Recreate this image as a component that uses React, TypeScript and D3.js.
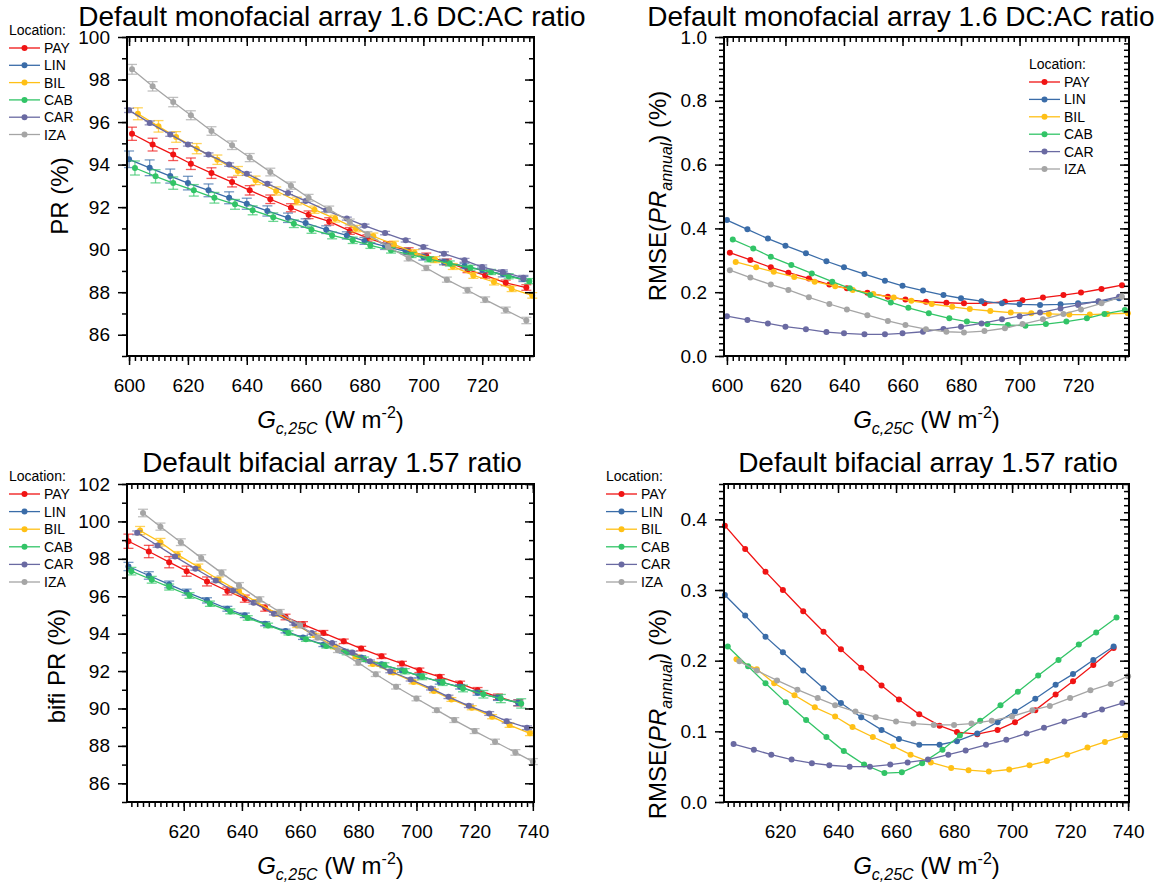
import React, { useEffect, useRef } from 'react';
import * as d3 from 'd3';

const FONT = '"Liberation Sans", Arial, Helvetica, sans-serif';

const locations = ['PAY', 'LIN', 'BIL', 'CAB', 'CAR', 'IZA'];
const colors: Record<string, string> = {
  PAY: '#f01414',
  LIN: '#3a6ca8',
  BIL: '#ffc016',
  CAB: '#32c467',
  CAR: '#6a6aa2',
  IZA: '#a5a5a5',
};

// monofacial array, 1.6 DC:AC ratio
const monoPayX = [601, 608, 615, 621, 628, 635, 641, 648, 655, 661, 668, 675, 681, 688, 695, 701, 708, 715, 721, 728, 735];
const monoLinX = [600, 607, 614, 620, 627, 634, 640, 647, 654, 660, 667, 674, 680, 687, 694, 700, 707, 714, 720, 727, 734];
const monoBilX = [603, 610, 616, 623, 630, 637, 643, 650, 657, 663, 670, 677, 683, 690, 697, 704, 710, 717, 724, 730, 737];
const monoCabX = [602, 609, 615, 622, 629, 636, 642, 649, 656, 662, 669, 676, 682, 689, 696, 702, 709, 716, 723, 729, 736];
const monoCarX = [600, 607, 614, 620, 627, 634, 640, 647, 654, 660, 667, 674, 680, 687, 694, 700, 707, 714, 720, 727, 734];
const monoIzaX = [601, 608, 615, 621, 628, 635, 641, 648, 655, 661, 668, 675, 681, 688, 695, 701, 708, 715, 721, 728, 735];

const monoPayPR = [95.45, 94.94, 94.47, 94.04, 93.6, 93.18, 92.79, 92.37, 91.97, 91.64, 91.33, 90.88, 90.55, 90.23, 89.94, 89.7, 89.42, 89.06, 88.79, 88.44, 88.22];
const monoLinPR = [94.25, 93.85, 93.46, 93.13, 92.79, 92.44, 92.16, 91.82, 91.5, 91.25, 90.94, 90.67, 90.41, 90.16, 89.92, 89.65, 89.42, 89.23, 89.05, 88.85, 88.62];
const monoBilPR = [96.39, 95.8, 95.3, 94.75, 94.23, 93.7, 93.26, 92.76, 92.29, 91.88, 91.46, 90.99, 90.63, 90.25, 89.86, 89.53, 89.21, 88.79, 88.48, 88.16, 87.85];
const monoCabPR = [93.84, 93.45, 93.13, 92.79, 92.44, 92.13, 91.85, 91.53, 91.22, 90.94, 90.67, 90.44, 90.2, 89.97, 89.75, 89.55, 89.35, 89.15, 88.95, 88.75, 88.52];
const monoCarPR = [96.55, 95.96, 95.42, 94.95, 94.47, 94.0, 93.57, 93.1, 92.66, 92.29, 91.85, 91.46, 91.13, 90.78, 90.44, 90.12, 89.81, 89.5, 89.18, 88.95, 88.68];
const monoIzaPR = [98.48, 97.68, 96.94, 96.32, 95.58, 94.91, 94.33, 93.65, 93.01, 92.44, 91.9, 91.3, 90.72, 90.14, 89.6, 89.14, 88.59, 88.09, 87.65, 87.16, 86.67];

const monoPayErr = [0.31, 0.3, 0.28, 0.27, 0.25, 0.23, 0.22, 0.2, 0.19, 0.18, 0.17, 0.16, 0.15, 0.15, 0.15, 0.14, 0.14, 0.14, 0.13, 0.13, 0.13];
const monoLinErr = [0.39, 0.37, 0.33, 0.32, 0.3, 0.28, 0.26, 0.24, 0.22, 0.2, 0.18, 0.17, 0.16, 0.15, 0.14, 0.14, 0.13, 0.13, 0.13, 0.13, 0.12];
const monoBilErr = [0.28, 0.27, 0.25, 0.24, 0.22, 0.21, 0.2, 0.19, 0.18, 0.17, 0.16, 0.15, 0.15, 0.15, 0.14, 0.14, 0.14, 0.14, 0.14, 0.13, 0.13];
const monoCabErr = [0.33, 0.31, 0.29, 0.27, 0.25, 0.23, 0.21, 0.2, 0.18, 0.17, 0.16, 0.15, 0.14, 0.13, 0.12, 0.12, 0.12, 0.12, 0.12, 0.12, 0.12];
const monoCarErr = [0.1, 0.09, 0.09, 0.08, 0.08, 0.08, 0.07, 0.07, 0.07, 0.07, 0.07, 0.07, 0.07, 0.08, 0.08, 0.08, 0.09, 0.09, 0.1, 0.1, 0.11];
const monoIzaErr = [0.23, 0.22, 0.22, 0.21, 0.2, 0.2, 0.19, 0.18, 0.17, 0.16, 0.15, 0.14, 0.13, 0.13, 0.13, 0.12, 0.12, 0.13, 0.13, 0.14, 0.15];

const monoPayRmse = [0.324, 0.301, 0.278, 0.261, 0.243, 0.224, 0.212, 0.198, 0.186, 0.177, 0.17, 0.167, 0.165, 0.165, 0.17, 0.175, 0.183, 0.191, 0.199, 0.21, 0.222];
const monoLinRmse = [0.426, 0.397, 0.368, 0.346, 0.322, 0.297, 0.278, 0.257, 0.236, 0.22, 0.205, 0.191, 0.181, 0.172, 0.165, 0.162, 0.16, 0.162, 0.165, 0.17, 0.181];
const monoBilRmse = [0.295, 0.278, 0.264, 0.248, 0.233, 0.219, 0.207, 0.194, 0.183, 0.173, 0.163, 0.154, 0.147, 0.141, 0.136, 0.134, 0.132, 0.13, 0.13, 0.132, 0.134];
const monoCabRmse = [0.365, 0.337, 0.311, 0.285, 0.259, 0.233, 0.212, 0.191, 0.168, 0.151, 0.134, 0.118, 0.108, 0.1, 0.097, 0.095, 0.1, 0.108, 0.118, 0.132, 0.144];
const monoCarRmse = [0.125, 0.113, 0.102, 0.092, 0.084, 0.075, 0.071, 0.068, 0.068, 0.071, 0.076, 0.085, 0.092, 0.102, 0.115, 0.125, 0.136, 0.149, 0.16, 0.172, 0.186];
const monoIzaRmse = [0.269, 0.246, 0.224, 0.207, 0.184, 0.163, 0.146, 0.128, 0.11, 0.097, 0.084, 0.076, 0.074, 0.078, 0.087, 0.1, 0.115, 0.132, 0.146, 0.165, 0.186];

// bifacial array, 1.57 ratio
const bifiPayX = [601, 608, 615, 621, 628, 635, 641, 648, 655, 661, 668, 675, 681, 688, 695, 701, 708, 715, 721, 728, 735];
const bifiLinX = [601, 608, 615, 621, 628, 635, 641, 648, 655, 661, 668, 675, 681, 688, 695, 701, 708, 715, 721, 728, 735];
const bifiBilX = [605, 612, 618, 625, 632, 639, 645, 652, 659, 665, 672, 679, 685, 692, 699, 706, 712, 719, 726, 732, 739];
const bifiCabX = [602, 609, 615, 622, 629, 636, 642, 649, 656, 662, 669, 676, 682, 689, 696, 702, 709, 716, 723, 729, 736];
const bifiCarX = [604, 611, 617, 624, 631, 637, 644, 651, 658, 664, 671, 678, 684, 691, 698, 705, 711, 718, 725, 731, 738];
const bifiIzaX = [606, 612, 619, 626, 633, 639, 646, 653, 660, 666, 673, 680, 686, 693, 700, 707, 713, 720, 727, 734, 740];

const bifiPayPR = [98.94, 98.39, 97.82, 97.34, 96.79, 96.28, 95.87, 95.37, 94.89, 94.5, 94.04, 93.59, 93.2, 92.79, 92.4, 92.04, 91.69, 91.33, 90.98, 90.62, 90.3];
const bifiLinPR = [97.59, 97.11, 96.63, 96.22, 95.78, 95.33, 94.98, 94.53, 94.14, 93.79, 93.41, 93.06, 92.72, 92.36, 92.04, 91.74, 91.42, 91.16, 90.84, 90.57, 90.3];
const bifiBilPR = [99.51, 98.89, 98.21, 97.56, 96.88, 96.26, 95.69, 95.07, 94.44, 93.91, 93.29, 92.78, 92.38, 91.92, 91.42, 90.94, 90.48, 90.04, 89.56, 89.11, 88.67];
const bifiCabPR = [97.34, 96.88, 96.49, 96.04, 95.6, 95.19, 94.84, 94.44, 94.04, 93.7, 93.34, 92.99, 92.63, 92.31, 91.99, 91.69, 91.39, 91.07, 90.76, 90.53, 90.27];
const bifiCarPR = [99.39, 98.71, 98.12, 97.47, 96.84, 96.31, 95.65, 95.07, 94.53, 94.04, 93.5, 92.99, 92.52, 91.99, 91.55, 91.07, 90.62, 90.14, 89.73, 89.32, 88.97];
const bifiIzaPR = [100.45, 99.72, 98.89, 98.05, 97.25, 96.58, 95.83, 95.16, 94.44, 93.79, 93.11, 92.44, 91.83, 91.16, 90.53, 89.91, 89.38, 88.79, 88.22, 87.65, 87.16];

const bifiPayErr = [0.38, 0.33, 0.3, 0.27, 0.24, 0.21, 0.19, 0.17, 0.15, 0.14, 0.13, 0.12, 0.12, 0.12, 0.12, 0.12, 0.12, 0.13, 0.14, 0.15, 0.16];
const bifiLinErr = [0.22, 0.2, 0.18, 0.16, 0.14, 0.13, 0.12, 0.11, 0.1, 0.1, 0.1, 0.1, 0.1, 0.1, 0.11, 0.11, 0.12, 0.12, 0.13, 0.14, 0.15];
const bifiBilErr = [0.22, 0.2, 0.18, 0.16, 0.15, 0.14, 0.13, 0.12, 0.11, 0.1, 0.1, 0.1, 0.1, 0.1, 0.1, 0.1, 0.1, 0.11, 0.11, 0.12, 0.12];
const bifiCabErr = [0.2, 0.18, 0.16, 0.15, 0.14, 0.13, 0.12, 0.12, 0.11, 0.11, 0.11, 0.12, 0.12, 0.13, 0.14, 0.15, 0.16, 0.18, 0.2, 0.22, 0.25];
const bifiCarErr = [0.1, 0.09, 0.09, 0.08, 0.08, 0.08, 0.07, 0.07, 0.07, 0.07, 0.07, 0.07, 0.07, 0.08, 0.08, 0.08, 0.09, 0.09, 0.1, 0.1, 0.1];
const bifiIzaErr = [0.2, 0.19, 0.18, 0.17, 0.16, 0.15, 0.14, 0.13, 0.12, 0.12, 0.12, 0.12, 0.12, 0.12, 0.12, 0.12, 0.13, 0.13, 0.14, 0.15, 0.16];

const bifiPayRmse = [0.391, 0.358, 0.326, 0.3, 0.27, 0.241, 0.216, 0.19, 0.165, 0.145, 0.124, 0.108, 0.099, 0.096, 0.102, 0.113, 0.13, 0.152, 0.171, 0.194, 0.218];
const bifiLinRmse = [0.293, 0.264, 0.234, 0.212, 0.186, 0.161, 0.14, 0.12, 0.102, 0.089, 0.081, 0.081, 0.086, 0.097, 0.113, 0.128, 0.146, 0.166, 0.181, 0.201, 0.22];
const bifiBilRmse = [0.202, 0.188, 0.168, 0.151, 0.134, 0.121, 0.106, 0.092, 0.079, 0.067, 0.056, 0.048, 0.045, 0.043, 0.046, 0.052, 0.058, 0.067, 0.077, 0.085, 0.094];
const bifiCabRmse = [0.22, 0.192, 0.168, 0.141, 0.116, 0.092, 0.072, 0.053, 0.041, 0.042, 0.055, 0.074, 0.094, 0.115, 0.137, 0.156, 0.179, 0.201, 0.223, 0.24, 0.261];
const bifiCarRmse = [0.082, 0.074, 0.067, 0.06, 0.055, 0.052, 0.05, 0.05, 0.053, 0.056, 0.06, 0.067, 0.073, 0.081, 0.088, 0.097, 0.105, 0.114, 0.123, 0.131, 0.14];
const bifiIzaRmse = [0.199, 0.186, 0.172, 0.159, 0.147, 0.137, 0.128, 0.12, 0.114, 0.111, 0.109, 0.109, 0.111, 0.115, 0.121, 0.13, 0.136, 0.147, 0.158, 0.167, 0.178];

const monoXTicks = [600, 620, 640, 660, 680, 700, 720];
const bifiXTicks = [620, 640, 660, 680, 700, 720, 740];
const monoPRTicks = [86, 88, 90, 92, 94, 96, 98, 100];
const bifiPRTicks = [86, 88, 90, 92, 94, 96, 98, 100, 102];
const monoRmseTicks = [0, 0.2, 0.4, 0.6, 0.8, 1.0];
const bifiRmseTicks = [0, 0.1, 0.2, 0.3, 0.4];

const monoTitle = 'Default monofacial array 1.6 DC:AC ratio';
const bifiTitle = 'Default bifacial array 1.57 ratio';

type Series = { name: string; x: number[]; y: number[]; err?: number[] };

const drawPanel = (svg: any, p: any) => {
  const x = d3.scaleLinear().domain(p.xDomain).range([p.left, p.right]);
  const y = d3.scaleLinear().domain(p.yDomain).range([p.bottom, p.top]);
  const g = svg.append('g');

  const line = d3
    .line<[number, number]>()
    .x((d) => x(d[0]))
    .y((d) => y(d[1]));

  p.series.forEach((s: Series) => {
    const c = colors[s.name];
    const pts: [number, number][] = s.x.map((v, i) => [v, s.y[i]]);
    const sg = g.append('g');
    if (s.err) {
      const eg = sg
        .append('g')
        .attr('stroke', c)
        .attr('stroke-opacity', 0.7)
        .attr('stroke-width', 1.3);
      pts.forEach((d, i) => {
        const cx = x(d[0]);
        const y1 = y(d[1] + s.err![i]);
        const y2 = y(d[1] - s.err![i]);
        eg.append('line').attr('x1', cx).attr('x2', cx).attr('y1', y1).attr('y2', y2);
        eg.append('line').attr('x1', cx - 5).attr('x2', cx + 5).attr('y1', y1).attr('y2', y1);
        eg.append('line').attr('x1', cx - 5).attr('x2', cx + 5).attr('y1', y2).attr('y2', y2);
      });
    }
    sg.append('path')
      .datum(pts)
      .attr('d', line)
      .attr('fill', 'none')
      .attr('stroke', c)
      .attr('stroke-width', 1.3);
    sg.selectAll('circle')
      .data(pts)
      .join('circle')
      .attr('cx', (d: any) => x(d[0]))
      .attr('cy', (d: any) => y(d[1]))
      .attr('r', 3)
      .attr('fill', c);
  });

  // axes: bottom/left ticks point out, top/right ticks point in
  const style = (sel: any) => {
    sel.select('.domain').remove();
    sel.selectAll('line').attr('stroke', '#000').attr('stroke-width', 1.5);
    sel.selectAll('text').attr('font-size', 19).attr('font-family', FONT).attr('fill', '#000');
  };
  const blank = () => '';

  g.append('g').attr('transform', `translate(0,${p.bottom})`)
    .call(d3.axisBottom(x).tickValues(p.xMinor).tickSize(5).tickFormat(blank)).call(style);
  g.append('g').attr('transform', `translate(0,${p.bottom})`)
    .call(d3.axisBottom(x).tickValues(p.xTicks).tickSize(9).tickPadding(14).tickFormat(d3.format('d'))).call(style);
  g.append('g').attr('transform', `translate(0,${p.top})`)
    .call(d3.axisTop(x).tickValues(p.xMinor).tickSize(-5).tickFormat(blank)).call(style);
  g.append('g').attr('transform', `translate(0,${p.top})`)
    .call(d3.axisTop(x).tickValues(p.xTicks).tickSize(-9).tickFormat(blank)).call(style);

  g.append('g').attr('transform', `translate(${p.left},0)`)
    .call(d3.axisLeft(y).tickValues(p.yMinor).tickSize(5).tickFormat(blank)).call(style);
  g.append('g').attr('transform', `translate(${p.left},0)`)
    .call(d3.axisLeft(y).tickValues(p.yTicks).tickSize(9).tickPadding(8).tickFormat(d3.format(p.yFormat))).call(style);
  g.append('g').attr('transform', `translate(${p.right},0)`)
    .call(d3.axisRight(y).tickValues(p.yMinor).tickSize(-5).tickFormat(blank)).call(style);
  g.append('g').attr('transform', `translate(${p.right},0)`)
    .call(d3.axisRight(y).tickValues(p.yTicks).tickSize(-9).tickFormat(blank)).call(style);

  g.append('rect')
    .attr('x', p.left)
    .attr('y', p.top)
    .attr('width', p.right - p.left)
    .attr('height', p.bottom - p.top)
    .attr('fill', 'none')
    .attr('stroke', '#000')
    .attr('stroke-width', 2);

  // title
  g.append('text')
    .attr('x', p.titleX)
    .attr('y', p.titleY)
    .attr('text-anchor', 'middle')
    .attr('font-family', FONT)
    .attr('font-size', 28)
    .text(p.title);

  // x label: G_c,25C (W m^-2)
  const xl = g.append('text')
    .attr('x', (p.left + p.right) / 2)
    .attr('y', p.bottom + 72)
    .attr('text-anchor', 'middle')
    .attr('font-family', FONT)
    .attr('font-size', 24);
  xl.append('tspan').attr('font-style', 'italic').text('G');
  xl.append('tspan').attr('font-style', 'italic').attr('font-size', 16).attr('dy', 6).text('c,25C');
  xl.append('tspan').attr('dy', -6).text(' (W m');
  xl.append('tspan').attr('font-size', 16).attr('dy', -10).text('-2');
  xl.append('tspan').attr('dy', 10).text(')');

  // y label
  const yl = g.append('text')
    .attr('transform', `translate(${p.yLabelX},${p.yLabelY}) rotate(-90)`)
    .attr('text-anchor', 'middle')
    .attr('font-family', FONT)
    .attr('font-size', 24);
  if (p.yLabel === 'rmse') {
    yl.append('tspan').text('RMSE(');
    yl.append('tspan').attr('font-style', 'italic').text('PR');
    yl.append('tspan').attr('font-style', 'italic').attr('font-size', 16).attr('dy', 6).text('annual');
    yl.append('tspan').attr('dy', -6).text(') (%)');
  } else {
    yl.text(p.yLabel);
  }

  // legend
  const lg = g.append('g').attr('font-family', FONT).attr('font-size', 14);
  lg.append('text').attr('x', p.legendX).attr('y', p.legendY + 5).text('Location:');
  locations.forEach((name, i) => {
    const cy = p.legendY + 18 + i * p.legendStep;
    lg.append('line')
      .attr('x1', p.legendX).attr('x2', p.legendX + 31)
      .attr('y1', cy).attr('y2', cy)
      .attr('stroke', colors[name]).attr('stroke-width', 1.3);
    lg.append('circle').attr('cx', p.legendX + 15.5).attr('cy', cy).attr('r', 3).attr('fill', colors[name]);
    lg.append('text').attr('x', p.legendX + 35).attr('y', cy + 5).text(name);
  });
};

const App = () => {
  const svgRef = useRef<SVGSVGElement>(null);

  useEffect(() => {
    const svg = d3.select(svgRef.current);

    const monoPR: Series[] = [
      { name: 'PAY', x: monoPayX, y: monoPayPR, err: monoPayErr },
      { name: 'LIN', x: monoLinX, y: monoLinPR, err: monoLinErr },
      { name: 'BIL', x: monoBilX, y: monoBilPR, err: monoBilErr },
      { name: 'CAB', x: monoCabX, y: monoCabPR, err: monoCabErr },
      { name: 'CAR', x: monoCarX, y: monoCarPR, err: monoCarErr },
      { name: 'IZA', x: monoIzaX, y: monoIzaPR, err: monoIzaErr },
    ];
    const monoRmse: Series[] = [
      { name: 'PAY', x: monoPayX, y: monoPayRmse },
      { name: 'LIN', x: monoLinX, y: monoLinRmse },
      { name: 'BIL', x: monoBilX, y: monoBilRmse },
      { name: 'CAB', x: monoCabX, y: monoCabRmse },
      { name: 'CAR', x: monoCarX, y: monoCarRmse },
      { name: 'IZA', x: monoIzaX, y: monoIzaRmse },
    ];
    const bifiPR: Series[] = [
      { name: 'PAY', x: bifiPayX, y: bifiPayPR, err: bifiPayErr },
      { name: 'LIN', x: bifiLinX, y: bifiLinPR, err: bifiLinErr },
      { name: 'BIL', x: bifiBilX, y: bifiBilPR, err: bifiBilErr },
      { name: 'CAB', x: bifiCabX, y: bifiCabPR, err: bifiCabErr },
      { name: 'CAR', x: bifiCarX, y: bifiCarPR, err: bifiCarErr },
      { name: 'IZA', x: bifiIzaX, y: bifiIzaPR, err: bifiIzaErr },
    ];
    const bifiRmse: Series[] = [
      { name: 'PAY', x: bifiPayX, y: bifiPayRmse },
      { name: 'LIN', x: bifiLinX, y: bifiLinRmse },
      { name: 'BIL', x: bifiBilX, y: bifiBilRmse },
      { name: 'CAB', x: bifiCabX, y: bifiCabRmse },
      { name: 'CAR', x: bifiCarX, y: bifiCarRmse },
      { name: 'IZA', x: bifiIzaX, y: bifiIzaRmse },
    ];

    drawPanel(svg, {
      left: 127, right: 534, top: 37, bottom: 356,
      xDomain: [599.3, 737.6], yDomain: [85, 100],
      xTicks: monoXTicks, xMinor: d3.range(600, 737, 2),
      yTicks: monoPRTicks, yMinor: d3.range(85, 100.5, 1), yFormat: 'd',
      series: monoPR, title: monoTitle, titleX: 332, titleY: 26,
      yLabel: 'PR (%)', yLabelX: 68, yLabelY: 196,
      legendX: 9, legendY: 30, legendStep: 17.3,
    });
    drawPanel(svg, {
      left: 724, right: 1129, top: 37, bottom: 356,
      xDomain: [599, 737.4], yDomain: [0, 1],
      xTicks: monoXTicks, xMinor: d3.range(600, 737, 2),
      yTicks: monoRmseTicks, yMinor: d3.range(0, 1.001, 0.02), yFormat: '.1f',
      series: monoRmse, title: monoTitle, titleX: 901, titleY: 26,
      yLabel: 'rmse', yLabelX: 666, yLabelY: 196,
      legendX: 1029, legendY: 64, legendStep: 17.4,
    });
    drawPanel(svg, {
      left: 127, right: 534, top: 484, bottom: 802,
      xDomain: [600.5, 740.4], yDomain: [85, 102],
      xTicks: bifiXTicks, xMinor: d3.range(602, 741, 2),
      yTicks: bifiPRTicks, yMinor: d3.range(85, 102.5, 1), yFormat: 'd',
      series: bifiPR, title: bifiTitle, titleX: 332, titleY: 472,
      yLabel: 'bifi PR (%)', yLabelX: 65, yLabelY: 666,
      legendX: 9, legendY: 476, legendStep: 17.6,
    });
    drawPanel(svg, {
      left: 724, right: 1129, top: 484, bottom: 802,
      xDomain: [600.7, 740.3], yDomain: [0, 0.45],
      xTicks: bifiXTicks, xMinor: d3.range(602, 741, 2),
      yTicks: bifiRmseTicks, yMinor: d3.range(0, 0.4501, 0.01), yFormat: '.1f',
      series: bifiRmse, title: bifiTitle, titleX: 928, titleY: 472,
      yLabel: 'rmse', yLabelX: 666, yLabelY: 714,
      legendX: 606, legendY: 476, legendStep: 17.6,
    });

    return () => {
      svg.selectAll('*').remove();
    };
  }, []);

  return (
    <svg
      ref={svgRef}
      width={1173}
      height={889}
      style={{ position: 'absolute', left: 0, top: 0, background: '#fff' }}
    />
  );
};

export default App;
